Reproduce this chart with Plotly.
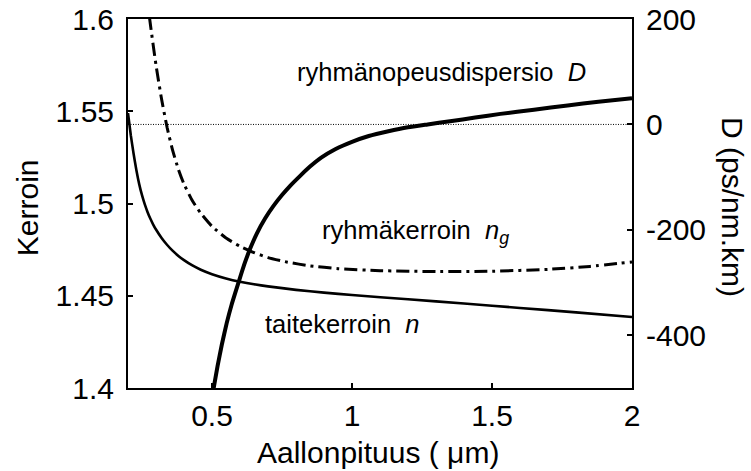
import plotly.graph_objects as go

# Refractive index n (left axis)
wl_n = [0.2, 0.21, 0.22, 0.23, 0.24, 0.25, 0.26, 0.27, 0.28, 0.29, 0.30, 0.32, 0.34, 0.36,
        0.38, 0.40, 0.43, 0.46, 0.50, 0.55, 0.60, 0.65, 0.70, 0.80, 0.90, 1.0, 1.2, 1.4,
        1.6, 1.8, 2.0]
n_vals = [1.549, 1.537, 1.527, 1.518, 1.5105, 1.5045, 1.4995, 1.4953, 1.4917, 1.4886,
          1.4859, 1.4813, 1.4775, 1.4743, 1.4716, 1.4693, 1.4664, 1.4641, 1.4617, 1.4594,
          1.4576, 1.4562, 1.4551, 1.4532, 1.4517, 1.4504, 1.4481, 1.4458, 1.4434, 1.4410,
          1.4385]

# Group index n_g (left axis)
wl_ng = [0.265, 0.28, 0.30, 0.32, 0.34, 0.36, 0.38, 0.40, 0.43, 0.46, 0.50, 0.55, 0.60,
         0.65, 0.70, 0.77, 0.85, 0.95, 1.1, 1.3, 1.5, 1.7, 1.85, 2.0]
ng_vals = [1.615, 1.597, 1.575, 1.5565, 1.541, 1.5285, 1.5185, 1.5105, 1.5015, 1.4947,
           1.4876, 1.4813, 1.4768, 1.4734, 1.4707, 1.4682, 1.4662, 1.4647, 1.4636, 1.4631,
           1.4633, 1.4643, 1.4659, 1.4683]

# Group velocity dispersion D (right axis, ps/nm.km)
wl_d = [0.5, 0.507, 0.52, 0.535, 0.5525, 0.57, 0.594, 0.615, 0.636, 0.66, 0.69, 0.719,
        0.75, 0.78, 0.814, 0.85, 0.89, 0.94, 1.0, 1.06, 1.13, 1.2, 1.27, 1.35, 1.44, 1.53,
        1.65, 1.77, 1.88, 2.0]
d_vals = [-520, -497, -458, -418, -377, -342, -301, -266, -236, -207, -178, -155, -134,
          -116, -98, -80, -63, -47, -33, -22, -13, -5.5, 0, 6, 13, 20, 28, 36, 43, 49.5]

# Zero-dispersion reference line
zero_x = [0.2, 2.0]
zero_y = [0, 0]

x_ticks = [0.5, 1, 1.5, 2]
y_ticks = [1.4, 1.45, 1.5, 1.55, 1.6]
y_tick_text = ["1.4", "1.45", "1.5", "1.55", "1.6"]
y2_ticks = [-400, -200, 0, 200]
y2_tick_text = ["-400", "-200", "0", "200"]

FONT = "Liberation Sans, Arial, sans-serif"

fig = go.Figure()
fig.add_trace(go.Scatter(x=zero_x, y=zero_y, yaxis="y2", mode="lines",
                         line=dict(color="black", width=1, dash="1px,1.5px"),
                         showlegend=False, hoverinfo="skip"))
fig.add_trace(go.Scatter(x=wl_n, y=n_vals, mode="lines",
                         line=dict(color="black", width=2.6, shape="spline", smoothing=0.5),
                         showlegend=False))
fig.add_trace(go.Scatter(x=wl_ng, y=ng_vals, mode="lines",
                         line=dict(color="black", width=3, dash="13px,5px,3px,5px",
                                   shape="spline", smoothing=0.5),
                         showlegend=False))
fig.add_trace(go.Scatter(x=wl_d, y=d_vals, yaxis="y2", mode="lines",
                         line=dict(color="black", width=4, shape="spline", smoothing=0.5),
                         showlegend=False))

axis_common = dict(showgrid=False, zeroline=False, showline=True, linecolor="black",
                   linewidth=2, ticks="inside", ticklen=5, tickwidth=1.5, tickcolor="black",
                   automargin=False,
                   tickfont=dict(family=FONT, size=30, color="black"))

fig.update_layout(
    width=751, height=471, autosize=False,
    margin=dict(l=128, r=119, t=19, b=83),
    plot_bgcolor="white", paper_bgcolor="white",
    font=dict(family=FONT, color="black"),
    xaxis=dict(range=[0.2, 2.0], tickvals=x_ticks, mirror=True, ticklabelstandoff=0,
               **axis_common),
    yaxis=dict(range=[1.4, 1.6], tickvals=y_ticks, ticktext=y_tick_text,
               ticklabelstandoff=6, **axis_common),
    yaxis2=dict(range=[-500, 200], tickvals=y2_ticks, ticktext=y2_tick_text,
                overlaying="y", side="right", ticklabelstandoff=6, **axis_common),
)

ann_font = dict(family=FONT, size=25.5, color="black")
annotations = [
    dict(text="ryhmänopeusdispersio  <i>D</i>", x=0.796, y=1.5713, xref="x", yref="y",
         xanchor="left", yanchor="middle", showarrow=False, font=ann_font),
    dict(text="ryhmäkerroin  <i>n</i><sub><i>g</i></sub>", x=0.886, y=1.4846, xref="x", yref="y",
         xanchor="left", yanchor="middle", showarrow=False, font=ann_font),
    dict(text="taitekerroin  <i>n</i>", x=0.682, y=1.4347, xref="x", yref="y",
         xanchor="left", yanchor="middle", showarrow=False, font=ann_font),
    dict(text="Aallonpituus ( μm)", x=0.496, y=-0.176, xref="paper", yref="paper",
         xanchor="center", yanchor="middle", showarrow=False,
         font=dict(family=FONT, size=30, color="black")),
    dict(text="Kerroin", x=-0.2004, y=0.49, xref="paper", yref="paper", textangle=-90,
         xanchor="center", yanchor="middle", showarrow=False,
         font=dict(family=FONT, size=30, color="black")),
    dict(text="D (ps/nm.km)", x=1.2004, y=0.4905, xref="paper", yref="paper", textangle=90,
         xanchor="center", yanchor="middle", showarrow=False,
         font=dict(family=FONT, size=30, color="black")),
]
fig.update_layout(annotations=annotations)

fig.write_html("out.html",
               config={"displayModeBar": False},
               post_script="document.body.style.margin='0px';"
                           "document.body.style.overflow='hidden';")
